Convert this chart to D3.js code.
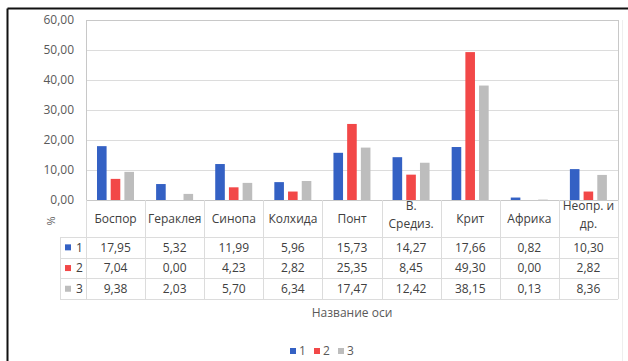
<!DOCTYPE html>
<html>
<head>
<meta charset="utf-8">
<script src="https://cdn.jsdelivr.net/npm/d3@7"></script>
<style>
  body { margin: 0; background: #fff; }
  svg { display: block; font-family: "Open Sans", sans-serif; }
</style>
</head>
<body>
<svg id="chart" width="628" height="361"></svg>
<script>
// data
var categories = [["Боспор"], ["Гераклея"], ["Синопа"], ["Колхида"], ["Понт"], ["В.", "Средиз."], ["Крит"], ["Африка"], ["Неопр. и", "др."]];
var seriesNames = ["1", "2", "3"];
var series1 = [17.95, 5.32, 11.99, 5.96, 15.73, 14.27, 17.66, 0.82, 10.30];
var series2 = [7.04, 0.00, 4.23, 2.82, 25.35, 8.45, 49.30, 0.00, 2.82];
var series3 = [9.38, 2.03, 5.70, 6.34, 17.47, 12.42, 38.15, 0.13, 8.36];
var yTicks = [0, 10, 20, 30, 40, 50, 60];
var colors = ["#3461c4", "#f24848", "#bdbdbd"];

var seriesData = [series1, series2, series3];
var fmt = function(v) { return v.toFixed(2).replace(".", ","); };

var svg = d3.select("#chart");

// outer frame (only left + top edges visible)
svg.append("line").attr("x1", 7.5).attr("x2", 628).attr("y1", 8.5).attr("y2", 8.5)
  .attr("stroke", "#111").attr("stroke-width", 2);
svg.append("line").attr("x1", 7.5).attr("x2", 7.5).attr("y1", 8.5).attr("y2", 361)
  .attr("stroke", "#111").attr("stroke-width", 2);
svg.append("line").attr("x1", 622.5).attr("x2", 622.5).attr("y1", 20).attr("y2", 361)
  .attr("stroke", "#eeeeee");

// plot geometry
var pLeft = 86, pRight = 618, pTop = 20, pBottom = 200;

var x = d3.scaleBand().domain(d3.range(categories.length)).range([pLeft, pRight]).padding(0);
var xs = d3.scaleBand().domain(d3.range(3)).range([11, 48]).paddingInner(0.3);
var y = d3.scaleLinear().domain([0, 60]).range([pBottom, pTop]);

// gridlines
svg.append("g").selectAll("line").data(yTicks).join("line")
  .attr("x1", pLeft).attr("x2", pRight)
  .attr("y1", function(d) { return Math.round(y(d)) + 0.5; })
  .attr("y2", function(d) { return Math.round(y(d)) + 0.5; })
  .attr("stroke", "#dcdcdc");

// plot border
svg.append("rect").attr("x", pLeft + 0.5).attr("y", pTop + 0.5)
  .attr("width", pRight - pLeft).attr("height", pBottom - pTop)
  .attr("fill", "none").attr("stroke", "#c8c8c8");

// y axis labels
svg.append("g").selectAll("text").data(yTicks).join("text")
  .attr("x", 74).attr("y", function(d) { return y(d); })
  .attr("dy", "0.35em").attr("text-anchor", "end")
  .attr("font-size", 12).attr("fill", "#595959")
  .text(fmt);

// bars
var groups = svg.append("g").selectAll("g").data(seriesData).join("g")
  .attr("fill", function(d, i) { return colors[i]; });
groups.each(function(vals, si) {
  d3.select(this).selectAll("rect").data(vals).join("rect")
    .attr("x", function(d, ci) { return x(ci) + xs(si); })
    .attr("width", xs.bandwidth())
    .attr("y", function(d) { return y(d); })
    .attr("height", function(d) { return pBottom - y(d); });
});

// data table
var rowTop = 237, rowH = 20.7, tableLeft = 60;
var tbl = svg.append("g").attr("stroke", "#dcdcdc").attr("fill", "none");
d3.range(categories.length + 1).forEach(function(i) {
  var xx = Math.round(pLeft + i * x.step()) + 0.5;
  tbl.append("line").attr("x1", xx).attr("x2", xx).attr("y1", pBottom).attr("y2", rowTop + 3 * rowH);
});
tbl.append("line").attr("x1", tableLeft + 0.5).attr("x2", tableLeft + 0.5)
  .attr("y1", rowTop).attr("y2", rowTop + 3 * rowH);
d3.range(4).forEach(function(r) {
  var yy = Math.round(rowTop + r * rowH) + 0.5;
  tbl.append("line").attr("x1", tableLeft).attr("x2", pRight).attr("y1", yy).attr("y2", yy);
});

// header labels
svg.append("g").selectAll("text").data(categories).join("text")
  .attr("text-anchor", "middle").attr("font-size", 12).attr("fill", "#404040")
  .attr("transform", function(d, i) { return "translate(" + (x(i) + x.bandwidth() / 2) + ",0)"; })
  .each(function(lines) {
    var t = d3.select(this);
    var y0 = lines.length === 1 ? 223 : 210;
    lines.forEach(function(l, k) {
      t.append("tspan").attr("x", 0).attr("y", y0 + k * 18).text(l);
    });
  });

// rows
seriesData.forEach(function(vals, si) {
  var cy = rowTop + si * rowH + rowH / 2;
  svg.append("rect").attr("x", 65).attr("y", cy - 3).attr("width", 6).attr("height", 6)
    .attr("fill", colors[si]);
  svg.append("text").attr("x", 76).attr("y", cy).attr("dy", "0.35em")
    .attr("font-size", 12).attr("fill", "#404040").text(seriesNames[si]);
  svg.append("g").selectAll("text").data(vals).join("text")
    .attr("x", function(d, ci) { return x(ci) + x.bandwidth() / 2; })
    .attr("y", cy).attr("dy", "0.35em").attr("text-anchor", "middle")
    .attr("font-size", 12).attr("fill", "#404040")
    .text(fmt);
});

// axis titles
svg.append("text").attr("transform", "translate(55,221) rotate(-90)")
  .attr("text-anchor", "middle").attr("font-size", 11).attr("fill", "#595959").text("%");
svg.append("text").attr("x", (pLeft + pRight) / 2).attr("y", 313).attr("dy", "0.35em")
  .attr("text-anchor", "middle").attr("font-size", 12).attr("fill", "#595959").text("Название оси");

// legend
var legend = svg.append("g").selectAll("g").data(seriesNames).join("g")
  .attr("transform", function(d, i) { return "translate(" + (290 + i * 24) + ",351)"; });
legend.append("rect").attr("x", 0).attr("y", -3).attr("width", 6).attr("height", 6)
  .attr("fill", function(d, i) { return colors[i]; });
legend.append("text").attr("x", 9).attr("y", 0).attr("dy", "0.35em")
  .attr("font-size", 12).attr("fill", "#595959").text(function(d) { return d; });
</script>
</body>
</html>
